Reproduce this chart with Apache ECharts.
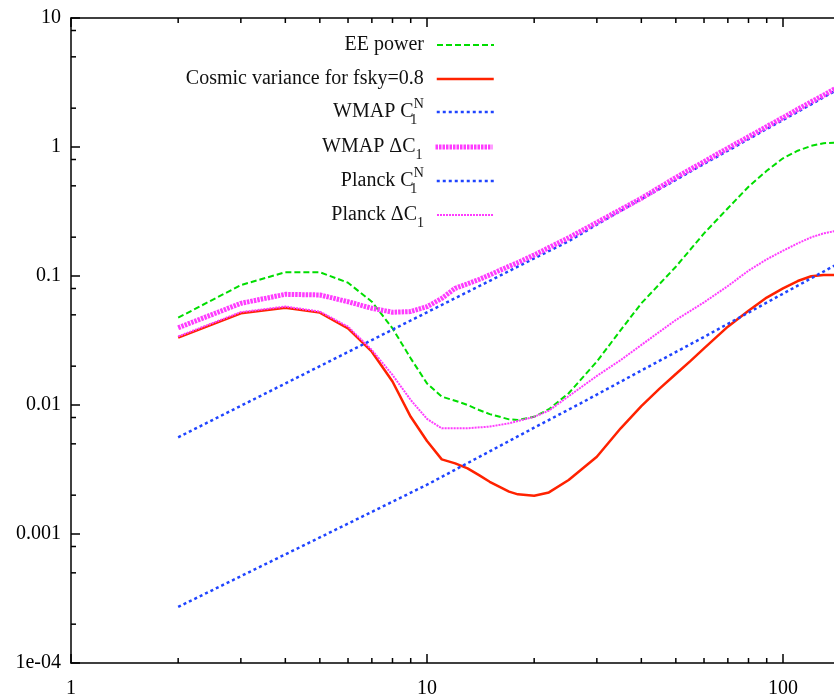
<!DOCTYPE html>
<html>
<head>
<meta charset="utf-8">
<script src="https://cdn.jsdelivr.net/npm/echarts@6/dist/echarts.min.js"></script>
<style>
  html, body { margin: 0; padding: 0; background: #fff; }
  #chart { width: 834px; height: 694px; }
</style>
</head>
<body>
<div id="chart"></div>
<script>
// ---------------- data ----------------
const eeL   = [2,3,4,5,6,7,8,9,10,11,12,13,14,15,17,18,20,22,25,30,35,40,50,60,70,80,90,100,110,120,130,140];
const eeV   = [0.0475,0.085,0.107,0.107,0.0887,0.0632,0.0393,0.0230,0.0147,0.0116,0.0108,0.0100,0.00915,0.0085,0.00774,0.00766,0.0081,0.00927,0.01233,0.0217,0.0381,0.0614,0.118,0.214,0.335,0.492,0.654,0.817,0.936,1.02,1.07,1.08];

const cvL   = [2,3,4,5,6,7,8,9,10,11,12,13,14,15,17,18,20,22,25,30,35,40,45,50,55,60,70,80,90,100,110,120,130,140];
const cvV   = [0.0333,0.0514,0.0568,0.052,0.0393,0.0259,0.0152,0.0081,0.00526,0.00379,0.00353,0.00323,0.00286,0.00254,0.00213,0.00203,0.00198,0.0021,0.00262,0.00397,0.0066,0.0098,0.0134,0.0174,0.022,0.0275,0.0405,0.0538,0.068,0.0803,0.0914,0.0995,0.102,0.102];

const wmapNL = [2,5,10,15,20,25,30,40,50,60,70,80,90,100,120,140];
const wmapNV = [0.00562,0.0200,0.0523,0.0917,0.137,0.186,0.25,0.395,0.555,0.74,0.935,1.15,1.38,1.62,2.14,2.72];

const wmapDL = [2,3,4,5,6,7,8,9,10,11,12,13,14,15,17,18,20,22,25,30,40,50,60,70,80,90,100,110,120,130,140];
const wmapDV = [0.0397,0.0614,0.0721,0.0713,0.0632,0.0562,0.0524,0.053,0.0578,0.067,0.0803,0.087,0.094,0.102,0.119,0.127,0.1455,0.166,0.198,0.26,0.40,0.58,0.77,0.98,1.20,1.44,1.69,1.96,2.24,2.52,2.84];

const planckNL = [2,5,10,20,27,40,60,100,140];
const planckNV = [0.000272,0.00094,0.00241,0.00667,0.0103,0.0185,0.0337,0.0729,0.121];

const planckDL = [2,3,4,5,6,7,8,9,10,11,12,13,15,17,20,22,25,30,35,40,50,60,70,80,90,100,110,120,130,140];
const planckDV = [0.034,0.0525,0.058,0.053,0.0405,0.0267,0.0171,0.01094,0.00780,0.00659,0.0066,0.0066,0.0068,0.00721,0.0081,0.00904,0.0117,0.0168,0.0223,0.0292,0.0456,0.0625,0.0836,0.11,0.1346,0.157,0.179,0.1995,0.214,0.223];

// tick values / labels
const yTickValues = [10, 1, 0.1, 0.01, 0.001, 0.0001];
const yTickLabels = ['10', '1', '0.1', '0.01', '0.001', '1e-04'];
const xTickValues = [1, 10, 100, 1000];
const xTickLabels = ['1', '10', '100', '1000'];
const xMinorTicks = [2,3,4,5,6,7,8,9,20,30,40,50,60,70,80,90,200,300,400,500,600,700,800,900];
const yMinorTicks = [0.0002,0.0005,0.0008,0.002,0.005,0.008,0.02,0.05,0.08,0.2,0.5,0.8,2,5,8];

const seriesNames = ['EE power', 'Cosmic variance for fsky=0.8', 'WMAP C1N', 'WMAP \u0394C1', 'Planck C1N', 'Planck \u0394C1'];
const legendRich = {
  'EE power': 'EE power',
  'Cosmic variance for fsky=0.8': 'Cosmic variance for fsky=0.8',
  'WMAP C1N': 'WMAP C{sub0|1}{sup|N}',
  'WMAP \u0394C1': 'WMAP \u0394C{sub|1}',
  'Planck C1N': 'Planck C{sub0|1}{sup|N}',
  'Planck \u0394C1': 'Planck \u0394C{sub|1}'
};

// ---------------- chart ----------------
const X_MIN = 1, X_MAX = 1000, Y_MIN = 0.0001, Y_MAX = 10;
const FONT = 'Liberation Serif, Times New Roman, serif';

function pairs(L, V) { return L.map((l, i) => [l, V[i]]); }
function labelFor(vals, labels, v) {
  for (let i = 0; i < vals.length; i++) {
    if (Math.abs(Math.log10(vals[i]) - Math.log10(v)) < 1e-6) return labels[i];
  }
  return '';
}

const chart = echarts.init(document.getElementById('chart'), null, { renderer: 'canvas' });

function lineSeries(name, data, color, width, type) {
  return {
    name: name, type: 'line', data: data, symbol: 'none', showSymbol: false,
    lineStyle: { color: color, width: width, type: type, cap: 'butt' },
    itemStyle: { color: color },
    emphasis: { disabled: true }, silent: true, animation: false
  };
}

function tickSeries(data, dx, dy) {
  return {
    type: 'custom', silent: true, animation: false, clip: false,
    data: data,
    renderItem: function (params, api) {
      const p = api.coord([api.value(0), api.value(1)]);
      return { type: 'line', shape: { x1: p[0], y1: p[1], x2: p[0] + dx, y2: p[1] + dy },
               style: { stroke: '#000', lineWidth: 1.5 } };
    }
  };
}

const rowCenters = [45, 79, 112, 147, 181, 215];
const legends = seriesNames.map((n, i) => ({
  data: [n],
  orient: 'vertical',
  align: 'right',
  right: 339,
  top: rowCenters[i] - 15,
  padding: 0,
  itemWidth: 57,
  itemHeight: 14,
  selectedMode: false,
  formatter: function (name) { return legendRich[name]; },
  lineStyle: { width: 'inherit' },
  itemStyle: { color: 'rgba(0,0,0,0)', borderWidth: 0, opacity: 0 },
  textStyle: {
    fontFamily: FONT, fontSize: 20, color: '#111', lineHeight: 30, padding: [0, 8, 0, 0],
    rich: {
      sub0: { fontFamily: FONT, fontSize: 14, lineHeight: 14, verticalAlign: 'bottom', width: 0, align: 'left', color: '#111' },
      sub: { fontFamily: FONT, fontSize: 14, lineHeight: 14, verticalAlign: 'bottom', color: '#111' },
      sup: { fontFamily: FONT, fontSize: 14, lineHeight: 14, verticalAlign: 'top', color: '#111' }
    }
  }
}));

const axisCommon = {
  type: 'log', logBase: 10,
  axisLine: { show: true, lineStyle: { color: '#000', width: 1.5 } },
  axisTick: { show: true, inside: true, length: 9, lineStyle: { color: '#000', width: 1.5 } },
  splitLine: { show: false },
  minorTick: { show: false },
  minorSplitLine: { show: false }
};

const option = {
  backgroundColor: '#fff',
  animation: false,
  grid: { left: 71, top: 18, right: -(71 + 356 * 3 - 834), height: 645, containLabel: false, outerBoundsMode: 'none' },
  legend: legends,
  xAxis: [
    Object.assign({}, axisCommon, {
      position: 'bottom', min: X_MIN, max: X_MAX,
      axisLabel: { fontFamily: FONT, fontSize: 20, color: '#000', margin: 16,
        formatter: v => labelFor(xTickValues, xTickLabels, v) }
    }),
    Object.assign({}, axisCommon, {
      position: 'top', min: X_MIN, max: X_MAX, axisLabel: { show: false }
    })
  ],
  yAxis: [
    Object.assign({}, axisCommon, {
      position: 'left', min: Y_MIN, max: Y_MAX,
      axisLabel: { fontFamily: FONT, fontSize: 20, color: '#000', margin: 10,
        formatter: v => labelFor(yTickValues, yTickLabels, v) }
    })
  ],
  series: [
    lineSeries(seriesNames[0], pairs(eeL, eeV), '#00dd00', 2, [6, 3]),
    lineSeries(seriesNames[1], pairs(cvL, cvV), '#ff2200', 2.5, 'solid'),
    lineSeries(seriesNames[2], pairs(wmapNL, wmapNV), '#1f44ff', 2.5, [3, 3]),
    lineSeries(seriesNames[3], pairs(wmapDL, wmapDV), '#ff3cff', 5, [2.5, 1]),
    lineSeries(seriesNames[4], pairs(planckNL, planckNV), '#1f44ff', 2.5, [3, 3]),
    lineSeries(seriesNames[5], pairs(planckDL, planckDV), '#ff3cff', 2, [2, 1]),
    tickSeries(xMinorTicks.map(v => [v, Y_MIN]), 0, -5),
    tickSeries(xMinorTicks.map(v => [v, Y_MAX]), 0, 5),
    tickSeries(yMinorTicks.map(v => [X_MIN, v]), 5, 0)
  ]
};
chart.setOption(option);
</script>
</body>
</html>
